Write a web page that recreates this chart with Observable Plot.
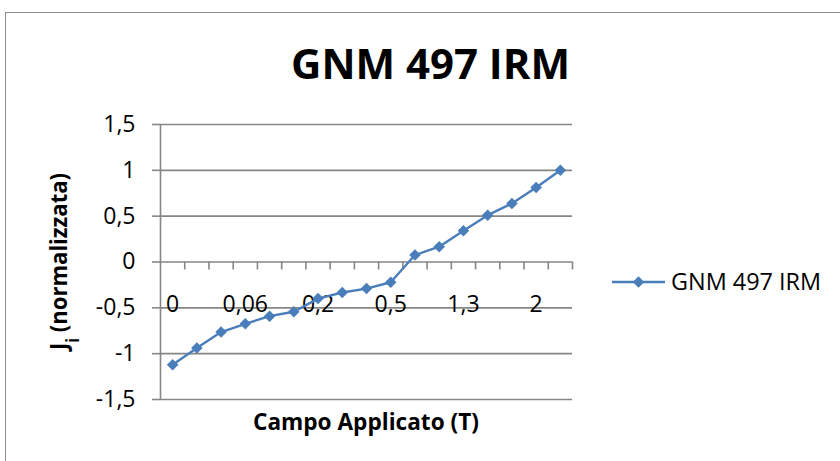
<!DOCTYPE html>
<html><head><meta charset="utf-8">
<script src="https://cdn.jsdelivr.net/npm/d3@7"></script>
<script src="https://cdn.jsdelivr.net/npm/@observablehq/plot@0.6"></script>
<style>
body{margin:0;background:#fff;}
#wrap{position:relative;width:840px;height:461px;overflow:hidden;font-family:"Open Sans",sans-serif;background:#fff;}
#frame{position:absolute;left:5px;top:12px;width:900px;height:500px;border-left:1.5px solid #8c8c8c;border-top:1.5px solid #8c8c8c;}
#wrap svg{position:absolute;left:0;top:0;}
</style></head><body><div id="wrap"><div id="frame"></div></div>
<script>
const chartTitle = "GNM 497 IRM";
const seriesName = "GNM 497 IRM";
const xTitle = "Campo Applicato (T)";
const yTitleMain = "J";
const yTitleSub = "i";
const yTitleRest = " (normalizzata)";
const categories = ["0","0,02","0,04","0,06","0,08","0,1","0,2","0,3","0,4","0,5","0,7","1","1,3","1,5","1,8","2","2,5"];
const values = [-1.12,-0.938,-0.764,-0.674,-0.591,-0.543,-0.399,-0.333,-0.290,-0.221,0.076,0.167,0.341,0.511,0.638,0.812,1.0];
const yTicks = [-1.5,-1,-0.5,0,0.5,1,1.5];
const labelStep = 3;

const blue = "#4a7ebb";
const gray = "#868686";
const markerR = 5.2;
const data = values.map((v, i) => ({i, v}));
const boundaries = d3.range(categories.length).map(i => i + 0.5);
const labelIdx = d3.range(0, categories.length, labelStep);
const xDomain = [-0.5, categories.length - 0.5];
const fmt = d => String(d).replace(".", ",");

const chart = Plot.plot({
  width: 840, height: 461,
  marginLeft: 160, marginRight: 268, marginTop: 124, marginBottom: 62,
  style: {fontFamily: '"Open Sans", sans-serif', fontSize: "23px", color: "#000", background: "transparent", overflow: "visible"},
  x: {type: "linear", domain: xDomain, axis: null},
  y: {domain: [yTicks[0], yTicks[yTicks.length - 1]], axis: null},
  marks: [
    Plot.gridY(yTicks, {stroke: gray, strokeOpacity: 1, strokeWidth: 1.6}),
    Plot.axisY(yTicks, {anchor: "left", tickSize: 8, tickPadding: 17, tickFormat: fmt, stroke: gray, strokeWidth: 1.6, strokeOpacity: 1, fill: "#000", fontSize: 23, label: null}),
    Plot.ruleX([xDomain[0]], {stroke: gray, strokeWidth: 1.6}),
    Plot.ruleX(boundaries, {x: d => d, y1: 0, y2: -0.087, stroke: gray, strokeWidth: 1.6}),
    Plot.text(labelIdx, {x: d => d, y: 0, text: d => categories[d], dy: 43, fontSize: 23, fill: "#000"}),
    Plot.line(data, {x: "i", y: "v", stroke: blue, strokeWidth: 2.4}),
    Plot.dot(data, {x: "i", y: "v", symbol: "diamond2", r: markerR, fill: blue, stroke: "none"})
  ]
});
const wrap = document.getElementById("wrap");
wrap.appendChild(chart);

// overlay: title, axis titles, legend
const ov = d3.select(wrap).append("svg").attr("width", 840).attr("height", 461)
  .style("font-family", '"Open Sans", sans-serif');
ov.append("text").attr("x", 430.5).attr("y", 79).attr("text-anchor", "middle")
  .attr("font-size", 41).attr("font-weight", "bold").attr("textLength", 279)
  .attr("lengthAdjust", "spacingAndGlyphs").text(chartTitle);
ov.append("text").attr("x", 366).attr("y", 430).attr("text-anchor", "middle")
  .attr("font-size", 24).attr("font-weight", "bold").attr("textLength", 226)
  .attr("lengthAdjust", "spacingAndGlyphs").text(xTitle);
const yt = ov.append("text").attr("transform", "translate(67,261.5) rotate(-90)")
  .attr("text-anchor", "middle").attr("font-size", 24).attr("font-weight", "bold")
  .attr("textLength", 177).attr("lengthAdjust", "spacingAndGlyphs");
yt.append("tspan").text(yTitleMain);
yt.append("tspan").attr("baseline-shift", "sub").attr("font-size", 17).text(yTitleSub);
yt.append("tspan").text(yTitleRest);
// legend
const lg = ov.append("g");
lg.append("line").attr("x1", 612).attr("x2", 665).attr("y1", 282).attr("y2", 282)
  .attr("stroke", blue).attr("stroke-width", 2.4);
lg.append("path").attr("transform", "translate(638.5,282)")
  .attr("d", d3.symbol(d3.symbolDiamond2, Math.PI * markerR * markerR)()).attr("fill", blue);
lg.append("text").attr("x", 671).attr("y", 290).attr("font-size", 23)
  .attr("textLength", 150).attr("lengthAdjust", "spacingAndGlyphs").text(seriesName);
</script></body></html>
